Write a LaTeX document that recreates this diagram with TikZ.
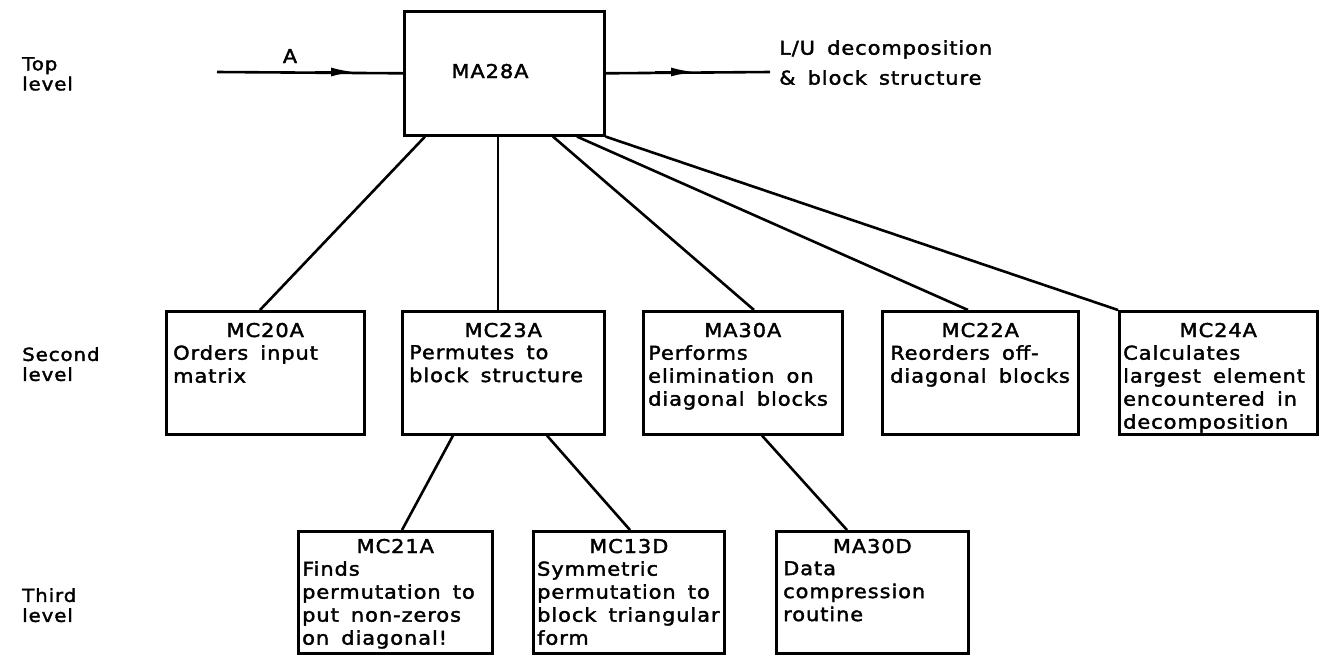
\documentclass[tikz,border=0pt]{standalone}
\usepackage{fontspec}
\setmainfont{DejaVu Sans}[FakeStretch=1.1,LetterSpace=5,WordSpace=1.6,FakeBold=2]
\usetikzlibrary{calc,arrows.meta}
\begin{document}
\begin{tikzpicture}[x=1pt,y=-1pt,
  box/.style={draw,line width=2.6pt,inner sep=0pt,anchor=north west},
  conn/.style={line width=2.6pt},
  ttl/.style={inner sep=0pt,anchor=base,font=\fontsize{19}{23}\selectfont},
  txt/.style={inner sep=0pt,anchor=north west,align=left,font=\fontsize{19}{23}\selectfont},
  lvl/.style={inner sep=0pt,anchor=north west,align=left,font=\fontsize{18}{20}\selectfont},
  tip/.style={line width=2.6pt,-{Latex[length=24pt,width=9pt]}}
]
\useasboundingbox (0,0) rectangle (1333,657);
% level labels
\node[lvl] (ltop) at (22,57) {Top\\level};
\node[lvl] (lsec) at (22,347) {Second\\level};
\node[lvl] (lthi) at (22,588) {Third\\level};
% top box
\node[box,minimum width=200pt,minimum height=124pt] (ma28a) at (403,10) {};
\node[ttl] (tma28a) at (490,78) {MA28A};
% second level
\node[box,minimum width=198pt,minimum height=123pt] (mc20a) at (165,310) {};
\node[box,minimum width=202pt,minimum height=123pt] (mc23a) at (401,310) {};
\node[box,minimum width=199pt,minimum height=123pt] (ma30a) at (642,310) {};
\node[box,minimum width=196pt,minimum height=123pt] (mc22a) at (881,310) {};
\node[box,minimum width=198pt,minimum height=123pt] (mc24a) at (1118,310) {};
\node[ttl] (h20a) at ($(mc20a.north)+(0,27)$) {MC20A};
\node[ttl] (h23a) at ($(mc23a.north)+(0,27)$) {MC23A};
\node[ttl] (h30a) at ($(ma30a.north)+(0,27)$) {MA30A};
\node[ttl] (h22a) at ($(mc22a.north)+(0,27)$) {MC22A};
\node[ttl] (h24a) at ($(mc24a.north)+(0,27)$) {MC24A};
\node[txt] (b20a) at ($(mc20a.north west)+(8,35)$) {Orders input\\matrix};
\node[txt] (b23a) at ($(mc23a.north west)+(8,35)$) {Permutes to\\block structure};
\node[txt] (b30a) at ($(ma30a.north west)+(6,35)$) {Performs\\elimination on\\diagonal blocks};
\node[txt] (b22a) at ($(mc22a.north west)+(9,35)$) {Reorders off-\\diagonal blocks};
\node[txt] (b24a) at ($(mc24a.north west)+(5,35)$) {Calculates\\largest element\\encountered in\\decomposition};
% third level
\node[box,minimum width=194pt,minimum height=122pt] (mc21a) at (297,530) {};
\node[box,minimum width=191pt,minimum height=122pt] (mc13d) at (532,530) {};
\node[box,minimum width=192pt,minimum height=122pt] (ma30d) at (775,530) {};
\node[ttl] (h21a) at ($(mc21a.north)+(0,23)$) {MC21A};
\node[ttl] (h13d) at ($(mc13d.north)+(0,23)$) {MC13D};
\node[ttl] (h30d) at ($(ma30d.north)+(0,23)$) {MA30D};
\node[txt] (b21a) at ($(mc21a.north west)+(5,31)$) {Finds\\permutation to\\put non-zeros\\on diagonal!};
\node[txt] (b13d) at ($(mc13d.north west)+(5,31)$) {Symmetric\\permutation to\\block triangular\\form};
\node[txt] (b30d) at ($(ma30d.north west)+(8,31)$) {Data\\compression\\routine};
% connectors
\draw[conn] ($(ma28a.south west)+(22,0)$) -- ($(mc20a.north west)+(95,0)$);
\draw[conn] ($(ma28a.south west)+(95,0)$) -- ($(mc23a.north west)+(97,0)$);
\draw[conn] ($(ma28a.south west)+(150,0)$) -- ($(ma30a.north west)+(112,0)$);
\draw[conn] ($(ma28a.south west)+(174,0)$) -- ($(mc22a.north west)+(87,0)$);
\draw[conn] (ma28a.south east) -- (mc24a.north west);
\draw[conn] ($(mc23a.south west)+(52,0)$) -- ($(mc21a.north west)+(105,0)$);
\draw[conn] ($(mc23a.south west)+(146,0)$) -- ($(mc13d.north west)+(98,0)$);
\draw[conn] ($(ma30a.south west)+(120,0)$) -- ($(ma30d.north west)+(72,0)$);
% input / output
\coordinate (ain) at (217,72);
\coordinate (amid) at (355,72);
\coordinate (bmid) at (695,72);
\coordinate (aout) at (770,72);
\draw[conn] (ain) -- (ma28a.west);
\draw[tip] ($(amid)+(-40,0)$) -- (amid);
\draw[conn] (ma28a.east) -- (aout);
\draw[tip] ($(bmid)+(-40,0)$) -- (bmid);
\node[ttl] (la) at (290,63) {A};
\node[txt,font=\fontsize{19}{30}\selectfont] (lout) at (779,40) {L/U decomposition\\\& block structure};
\end{tikzpicture}
\end{document}
